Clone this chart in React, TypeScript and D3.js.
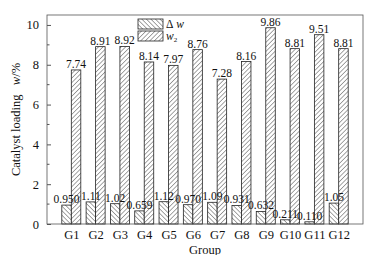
import React, { useEffect, useRef } from "react";
import * as d3 from "d3";

const groups = ["G1", "G2", "G3", "G4", "G5", "G6", "G7", "G8", "G9", "G10", "G11", "G12"];
const deltaW = [0.95, 1.11, 1.02, 0.659, 1.12, 0.97, 1.09, 0.931, 0.632, 0.211, 0.11, 1.05];
const deltaLabels = ["0.950", "1.11", "1.02", "0.659", "1.12", "0.970", "1.09", "0.931", "0.632", "0.211", "0.110", "1.05"];
const w2 = [7.74, 8.91, 8.92, 8.14, 7.97, 8.76, 7.28, 8.16, 9.86, 8.81, 9.51, 8.81];
const yTicks = [0, 2, 4, 6, 8, 10];

const W = 372, H = 263;
const left = 47, right = 363, top = 15, bottom = 224;
const barW = 9.5;
const font = "Liberation Serif";

function Chart() {
  const ref = useRef<SVGSVGElement>(null);

  useEffect(() => {
    const svg = d3.select(ref.current);
    svg.selectAll("*").remove();

    const defs = svg.append("defs");
    const mkPat = (id: string, back: boolean) => {
      const p = defs.append("pattern")
        .attr("id", id)
        .attr("patternUnits", "userSpaceOnUse")
        .attr("width", 3.2).attr("height", 3.2)
        .attr("patternTransform", `rotate(${back ? -45 : 45})`);
      p.append("rect").attr("width", 3.2).attr("height", 3.2).attr("fill", "#fff");
      p.append("line").attr("x1", 0).attr("y1", 0).attr("x2", 0).attr("y2", 3.2)
        .attr("stroke", "#222").attr("stroke-width", 0.8);
    };
    mkPat("hatchBack", true);
    mkPat("hatchFwd", false);

    const x = d3.scalePoint<string>().domain(groups).range([left, right]).padding(1);
    const y = d3.scaleLinear().domain([0, 10.5]).range([bottom, top]);

    // bars
    const g = svg.append("g");
    g.selectAll("rect.dw").data(deltaW).enter().append("rect")
      .attr("x", (d, i) => x(groups[i])! - barW)
      .attr("y", d => y(d))
      .attr("width", barW)
      .attr("height", d => y(0) - y(d))
      .attr("fill", "url(#hatchBack)")
      .attr("stroke", "#222").attr("stroke-width", 0.8);
    g.selectAll("rect.w2").data(w2).enter().append("rect")
      .attr("x", (d, i) => x(groups[i])!)
      .attr("y", d => y(d))
      .attr("width", barW)
      .attr("height", d => y(0) - y(d))
      .attr("fill", "url(#hatchFwd)")
      .attr("stroke", "#222").attr("stroke-width", 0.8);

    // value labels
    g.selectAll("text.dw").data(deltaW).enter().append("text")
      .attr("x", (d, i) => x(groups[i])! - barW / 2)
      .attr("y", d => y(d) - 2)
      .attr("text-anchor", "middle")
      .style("font-family", font).style("font-size", "11.5px").attr("fill", "#111")
      .text((d, i) => deltaLabels[i]);
    g.selectAll("text.w2").data(w2).enter().append("text")
      .attr("x", (d, i) => x(groups[i])! + barW / 2)
      .attr("y", d => y(d) - 2)
      .attr("text-anchor", "middle")
      .style("font-family", font).style("font-size", "11.5px").attr("fill", "#111")
      .text(d => d.toFixed(2));

    // frame
    svg.append("rect")
      .attr("x", left).attr("y", top)
      .attr("width", right - left).attr("height", bottom - top)
      .attr("fill", "none").attr("stroke", "#555").attr("stroke-width", 0.8);

    // y axis
    const yAxis = d3.axisLeft(y).tickValues(yTicks).tickSizeInner(-4).tickSizeOuter(0).tickPadding(8);
    const ya = svg.append("g").attr("transform", `translate(${left},0)`).call(yAxis);
    ya.select(".domain").remove();
    ya.selectAll("line").attr("stroke", "#555");
    ya.selectAll("text").style("font-family", font).style("font-size", "12.5px").attr("fill", "#111");
    const minor = d3.range(1, 10.5, 2);
    svg.append("g").selectAll("line").data(minor).enter().append("line")
      .attr("x1", left).attr("x2", left + 2.5)
      .attr("y1", d => y(d)).attr("y2", d => y(d))
      .attr("stroke", "#555");

    // x axis labels
    const xAxis = d3.axisBottom(x).tickSize(0).tickPadding(6);
    const xa = svg.append("g").attr("transform", `translate(0,${bottom})`).call(xAxis);
    xa.select(".domain").remove();
    xa.selectAll("text").style("font-family", font).style("font-size", "12.5px").attr("fill", "#111");

    // titles
    svg.append("text")
      .attr("x", 205).attr("y", 254)
      .attr("text-anchor", "middle")
      .style("font-family", font).style("font-size", "12.5px").attr("fill", "#111")
      .text("Group");
    const yt = svg.append("text")
      .attr("transform", `translate(20,${(top + bottom) / 2}) rotate(-90)`)
      .attr("text-anchor", "middle")
      .style("font-family", font).style("font-size", "12.5px").attr("fill", "#111");
    yt.append("tspan").text("Catalyst loading\u00a0\u00a0\u00a0");
    yt.append("tspan").attr("font-style", "italic").text("w");
    yt.append("tspan").text("/%");

    // legend
    const lx = 138;
    const leg = [
      { fill: "url(#hatchBack)", y: 19 },
      { fill: "url(#hatchFwd)", y: 31 },
    ];
    svg.append("g").selectAll("rect").data(leg).enter().append("rect")
      .attr("x", lx).attr("y", d => d.y)
      .attr("width", 25).attr("height", 10)
      .attr("fill", d => d.fill).attr("stroke", "#222").attr("stroke-width", 0.8);
    const t1 = svg.append("text").attr("x", lx + 28).attr("y", 28)
      .style("font-family", font).style("font-size", "11.5px").attr("fill", "#111");
    t1.append("tspan").text("\u0394");
    t1.append("tspan").attr("font-style", "italic").text(" w");
    const t2 = svg.append("text").attr("x", lx + 28).attr("y", 40)
      .style("font-family", font).style("font-size", "11.5px").attr("fill", "#111");
    t2.append("tspan").attr("font-style", "italic").text("w");
    t2.append("tspan").style("font-size", "7px").attr("dy", 2).text("2");
  }, []);

  return <svg ref={ref} width={W} height={H} style={{ display: "block" }} />;
}

export default function App() {
  return (
    <div style={{ margin: -8 }}>
      <Chart />
    </div>
  );
}
